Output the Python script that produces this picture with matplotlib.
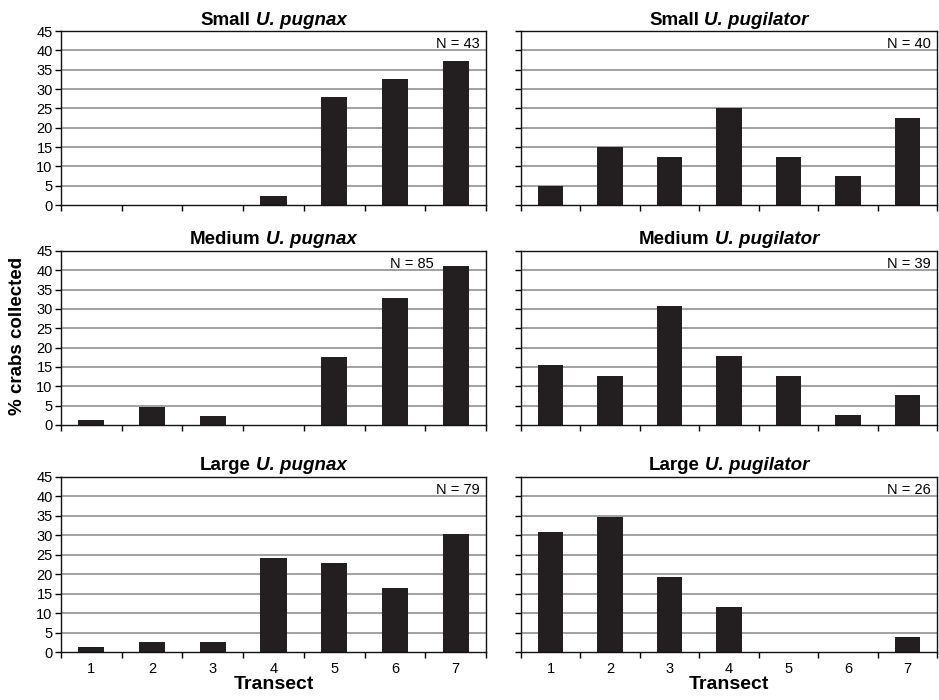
import numpy as np
import matplotlib
matplotlib.use("Agg")
import matplotlib.pyplot as plt
from matplotlib.transforms import ScaledTranslation

plt.rcParams['font.family'] = ['Liberation Sans', 'DejaVu Sans']

transects = [1, 2, 3, 4, 5, 6, 7]

# % crabs collected per transect
small_pugnax = [0, 0, 0, 2.3, 27.9, 32.6, 37.2]
small_pugilator = [5.0, 15.0, 12.5, 25.0, 12.5, 7.5, 22.5]
medium_pugnax = [1.2, 4.7, 2.4, 0, 17.6, 32.9, 41.2]
medium_pugilator = [15.4, 12.8, 30.8, 17.9, 12.8, 2.6, 7.7]
large_pugnax = [1.3, 2.5, 2.5, 24.1, 22.8, 16.5, 30.4]
large_pugilator = [30.8, 34.6, 19.2, 11.5, 0, 0, 3.8]

sizes = ['Small', 'Medium', 'Large']
species = ['U. pugnax', 'U. pugilator']
n_counts = [[43, 40], [85, 39], [79, 26]]
panels = [[small_pugnax, small_pugilator],
          [medium_pugnax, medium_pugilator],
          [large_pugnax, large_pugilator]]

BAR = '#231f20'
GRID = '#9a9a9a'

fig = plt.figure(figsize=(9.39, 7.0), dpi=100)
renderer = fig.canvas.get_renderer()

col_x = [(61, 425), (521, 416)]
row_y = [(31, 174), (251, 174), (477, 175)]


def two_part_title(ax, plain, italic_part, size=13.5):
    t1 = ax.text(0.5, 1.0, plain, transform=ax.transAxes, ha='left',
                 va='baseline', fontsize=size, fontweight='bold')
    t2 = ax.text(0.5, 1.0, italic_part, transform=ax.transAxes, ha='left',
                 va='baseline', fontsize=size, fontweight='bold', style='italic')
    w1 = t1.get_window_extent(renderer).width
    w2 = t2.get_window_extent(renderer).width
    gap = size * 0.28 * fig.dpi / 72
    total = w1 + gap + w2
    pad = 6.5 / fig.dpi
    t1.set_transform(ax.transAxes + ScaledTranslation(-total / 2 / fig.dpi, pad, fig.dpi_scale_trans))
    t2.set_transform(ax.transAxes + ScaledTranslation((w1 + gap - total / 2) / fig.dpi, pad, fig.dpi_scale_trans))


for r in range(3):
    for c in range(2):
        x0, w = col_x[c]
        y0, h = row_y[r]
        ax = fig.add_axes([x0 / 939, 1 - (y0 + h) / 700, w / 939, h / 700])
        vals = panels[r][c]
        ax.set_axisbelow(True)
        for yv in range(5, 45, 5):
            ax.axhline(yv, color=GRID, lw=1.3, zorder=0)
        ax.bar(transects, vals, width=0.43, color=BAR, zorder=2)
        ax.set_xlim(0.5, 7.5)
        ax.set_ylim(0, 45)
        ax.set_yticks(range(0, 50, 5))
        ax.set_xticks(np.arange(0.5, 8, 1))
        ax.set_xticklabels([])
        ax.set_xticks(transects, minor=True)
        if r == 2:
            ax.set_xticklabels([str(t) for t in transects], minor=True, fontsize=10.5)
            ax.set_xlabel('Transect', fontsize=14, fontweight='bold', labelpad=0)
        ax.tick_params(axis='x', which='minor', length=0, pad=7)
        ax.tick_params(axis='both', which='major', direction='out', length=4.5,
                       width=1, labelsize=10.5, pad=1.5)
        if c == 1:
            ax.set_yticklabels([])
        for sp in ax.spines.values():
            sp.set_linewidth(1.0)
            sp.set_color('#111111')
        two_part_title(ax, sizes[r], species[c])
        label = 'N = %d' % n_counts[r][c]
        if r == 1 and c == 0:
            # last bar is too tall here, so the label sits left of it
            ax.text(6.64, 0.965, label, transform=ax.get_xaxis_transform(),
                    ha='right', va='top', fontsize=10.5, zorder=3)
        else:
            ax.text(0.985, 0.965, label, transform=ax.transAxes, ha='right',
                    va='top', fontsize=10.5, zorder=3)

fig.text(0.019, 0.52, '% crabs collected', rotation=90, ha='center', va='center',
         fontsize=13.5, fontweight='bold')

fig.savefig('out.png', dpi=100)
